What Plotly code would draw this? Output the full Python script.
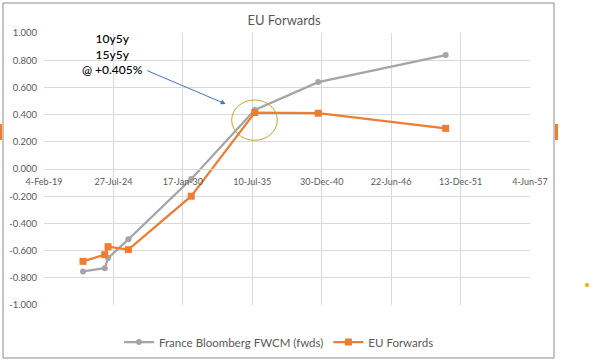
import plotly.graph_objects as go

# ---------------- data ----------------
dates = ["2022-03-04", "2023-11-20", "2024-02-23", "2025-10-01",
         "2030-09-15", "2035-09-20", "2040-09-20", "2050-10-10"]
france_fwcm = [-0.753, -0.729, -0.655, -0.517, -0.074, 0.434, 0.639, 0.838]
eu_forwards = [-0.679, -0.630, -0.571, -0.593, -0.200, 0.415, 0.410, 0.299]

x_tick_vals = ["2019-02-04", "2024-07-27", "2030-01-17", "2035-07-10",
               "2040-12-30", "2046-06-22", "2051-12-13", "2057-06-04"]
x_tick_text = ["4-Feb-19", "27-Jul-24", "17-Jan-30", "10-Jul-35",
               "30-Dec-40", "22-Jun-46", "13-Dec-51", "4-Jun-57"]
y_tick_vals = [-1.0, -0.8, -0.6, -0.4, -0.2, 0.0, 0.2, 0.4, 0.6, 0.8, 1.0]
y_tick_text = ["%.3f" % v for v in y_tick_vals]

# ---------------- layout geometry ----------------
W, H = 590, 362
L, R, T, B = 44, 60, 33, 57
PW, PH = W - L - R, H - T - B


def px(x):
    return (x - L) / PW


def py(y):
    return (H - B - y) / PH


FONT = "Lato, Calibri, Liberation Sans, sans-serif"
GRID = "#D9D9D9"
TXT = "#595959"

fig = go.Figure()
fig.add_trace(go.Scatter(
    x=dates, y=france_fwcm, name="France Bloomberg FWCM (fwds)",
    mode="lines+markers",
    line=dict(color="#A5A5A5", width=2.25),
    marker=dict(symbol="circle", size=6, color="#A5A5A5"),
))
fig.add_trace(go.Scatter(
    x=dates, y=eu_forwards, name="EU Forwards",
    mode="lines+markers",
    line=dict(color="#ED7D31", width=2.25),
    marker=dict(symbol="square", size=7, color="#ED7D31"),
))

shapes = [
    # chart border
    dict(type="rect", xref="paper", yref="paper",
         x0=px(3), x1=px(554), y0=py(358), y1=py(3),
         line=dict(color="#8C8C8C", width=1), layer="below"),
    # highlight ellipse
    dict(type="circle", xref="paper", yref="paper",
         x0=px(231.7), x1=px(277.3), y0=py(140.3), y1=py(100),
         line=dict(color="#C9A227", width=1)),
    # spreadsheet artifacts at the edges
    dict(type="rect", xref="paper", yref="paper",
         x0=px(0), x1=px(2), y0=py(140), y1=py(124),
         fillcolor="#ED7D31", line=dict(width=0)),
    dict(type="rect", xref="paper", yref="paper",
         x0=px(555), x1=px(558), y0=py(140), y1=py(124),
         fillcolor="#ED7D31", line=dict(width=0)),
    dict(type="circle", xref="paper", yref="paper",
         x0=px(585), x1=px(589), y0=py(287), y1=py(283),
         fillcolor="#FFA500", line=dict(width=0)),
]

annotations = [
    dict(xref="paper", yref="paper", x=px(112), y=py(54),
         text="10y5y<br>15y5y<br>@ +0.405%", showarrow=False,
         font=dict(family=FONT, size=12, color="#000000", weight=500),
         xanchor="center", yanchor="middle", align="center"),
    dict(xref="paper", yref="paper", x=px(225.7), y=py(104),
         ax=-80, ay=-34, text="", showarrow=True,
         arrowhead=2, arrowsize=1, arrowwidth=1, arrowcolor="#4472C4"),
]

fig.update_layout(
    width=W, height=H,
    margin=dict(l=L, r=R, t=T, b=B, autoexpand=False),
    paper_bgcolor="white", plot_bgcolor="white",
    title=dict(text="EU Forwards", x=px(278), xanchor="center",
               y=1 - 20 / H, yanchor="middle",
               font=dict(family=FONT, size=13, color=TXT)),
    font=dict(family=FONT, color=TXT),
    showlegend=True,
    legend=dict(orientation="h", x=px(279), xanchor="center",
                y=py(342), yanchor="middle",
                itemwidth=30,
                font=dict(family=FONT, size=11.5, color=TXT),
                bgcolor="rgba(0,0,0,0)"),
    shapes=shapes,
    annotations=annotations,
    xaxis=dict(
        type="date", range=["2019-02-04", "2057-06-04"],
        tickvals=x_tick_vals, ticktext=x_tick_text,
        showgrid=True, gridcolor=GRID, gridwidth=1,
        anchor="free", position=0.5,
        showline=True, linecolor=GRID, linewidth=1,
        zeroline=False, ticks="",
        ticklabelstandoff=4,
        tickfont=dict(family=FONT, size=9, color=TXT),
    ),
    yaxis=dict(
        range=[-1.0, 1.0],
        tickvals=y_tick_vals, ticktext=y_tick_text,
        showgrid=True, gridcolor=GRID, gridwidth=1,
        zeroline=False, showline=False, ticks="",
        ticklabelstandoff=6,
        tickfont=dict(family=FONT, size=9.5, color=TXT),
    ),
)

fig.write_html(
    "out.html",
    config={"displayModeBar": False},
    post_script="document.body.style.margin='0';document.body.style.padding='0';",
)
